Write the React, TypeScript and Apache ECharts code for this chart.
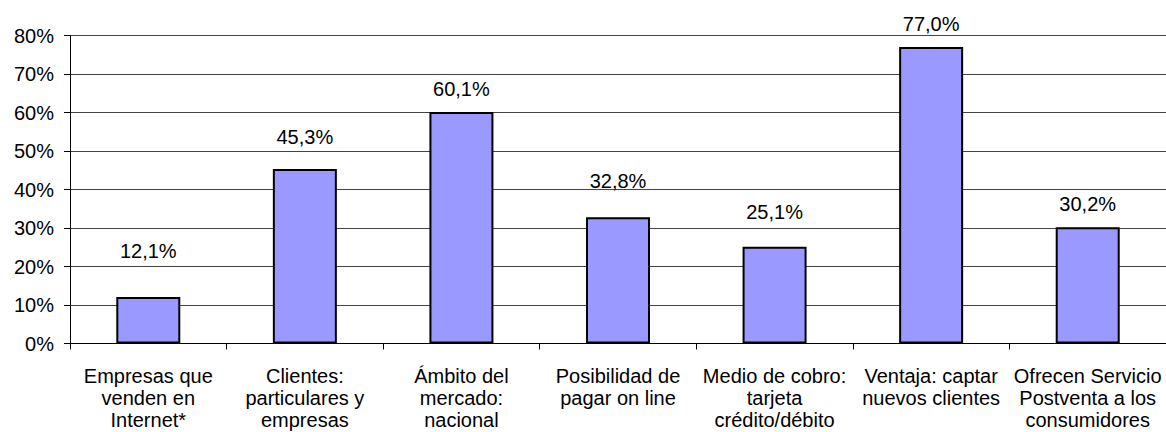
import React, { useEffect, useRef } from "react";
import * as echarts from "echarts";

const categories = [
  "Empresas que\nvenden en\nInternet*",
  "Clientes:\nparticulares y\nempresas",
  "Ámbito del\nmercado:\nnacional",
  "Posibilidad de\npagar on line",
  "Medio de cobro:\ntarjeta\ncrédito/débito",
  "Ventaja: captar\nnuevos clientes",
  "Ofrecen Servicio\nPostventa a los\nconsumidores",
];
const values = [12.1, 45.3, 60.1, 32.8, 25.1, 77.0, 30.2];
const yTicks = { min: 0, max: 80, interval: 10 };
// distance (px) of each value label above its bar, as placed in the original
const labelGaps = [36, 22, 13, 26, 25, 13, 13];

const FONT = "'Liberation Sans', Arial, sans-serif";

export default function App() {
  const ref = useRef<HTMLDivElement>(null);
  useEffect(() => {
    if (!ref.current) return;
    const chart = echarts.init(ref.current, null, { renderer: "svg" });
    chart.setOption({
      animation: false,
      backgroundColor: "#ffffff",
      textStyle: { fontFamily: FONT },
      grid: { left: 70, right: 0, top: 35.5, bottom: 88.5, containLabel: false },
      xAxis: {
        type: "category",
        data: categories,
        axisLine: { show: true, lineStyle: { color: "#000", width: 1 } },
        axisTick: { show: true, length: 6, lineStyle: { color: "#000" }, alignWithLabel: false },
        axisLabel: {
          interval: 0,
          margin: 21,
          fontSize: 20,
          lineHeight: 22,
          color: "#000",
          fontFamily: FONT,
          align: "center",
        },
        splitLine: { show: false },
      },
      yAxis: {
        type: "value",
        min: yTicks.min,
        max: yTicks.max,
        interval: yTicks.interval,
        axisLine: { show: true, lineStyle: { color: "#000", width: 1 } },
        axisTick: { show: true, length: 6, lineStyle: { color: "#000" } },
        axisLabel: {
          formatter: "{value}%",
          fontSize: 20,
          color: "#000",
          margin: 16,
          fontFamily: FONT,
        },
        splitLine: { show: true, lineStyle: { color: "#444", width: 1 } },
      },
      series: [
        {
          type: "bar",
          barWidth: 64,
          data: values.map((v, i) => ({
            value: v,
            label: { distance: labelGaps[i] },
          })),
          itemStyle: { color: "#9999FF", borderColor: "#000", borderWidth: 2 },
          label: {
            show: true,
            position: "top",
            fontSize: 20,
            color: "#000",
            fontFamily: FONT,
            formatter: (p: any) => p.value.toFixed(1).replace(".", ",") + "%",
          },
        },
      ],
    });
    return () => chart.dispose();
  }, []);
  return (
    <div
      ref={ref}
      style={{ position: "fixed", left: 0, top: 0, width: 1166, height: 432, background: "#fff" }}
    />
  );
}
